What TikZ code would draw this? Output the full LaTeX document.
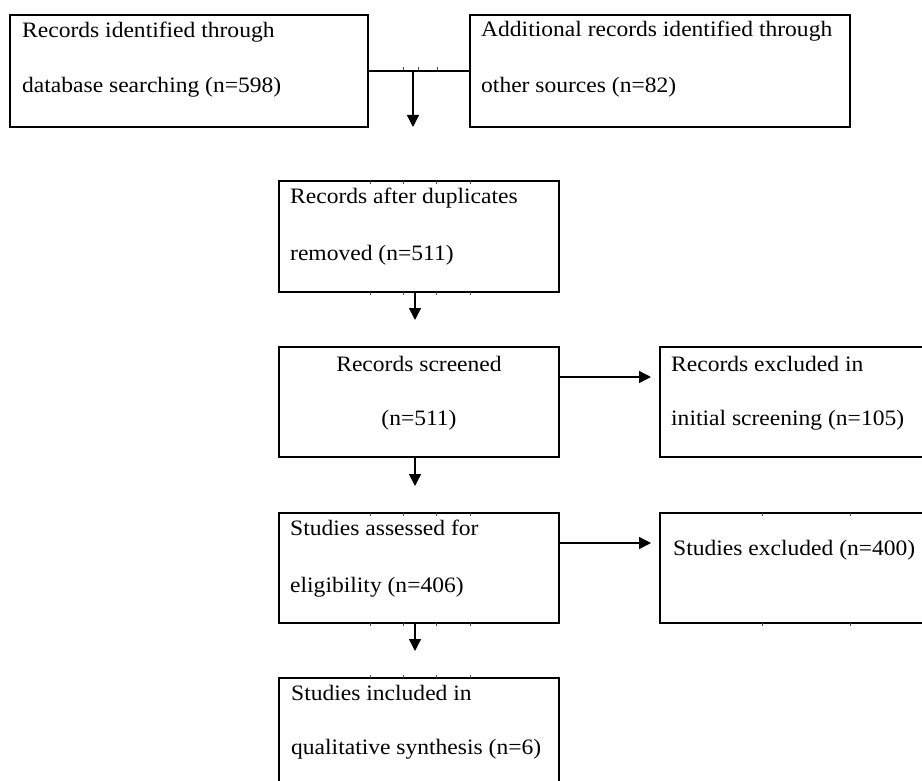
\documentclass[tikz,border=0pt]{standalone}
\usepackage{fontspec}
\setmainfont{Liberation Serif}
\usetikzlibrary{arrows.meta}
\newcommand{\strx}[1]{\scalebox{1.07}[1]{#1}}
\begin{document}
\begin{tikzpicture}[x=1pt,y=-1pt,
  box/.style={draw=black, line width=1.4pt, inner sep=0pt, outer sep=0pt},
  txt/.style={anchor=base west, inner sep=0pt, font=\fontsize{22}{22}\selectfont},
  ctxt/.style={anchor=base, inner sep=0pt, font=\fontsize{22}{22}\selectfont},
  conn/.style={draw=black, line width=1.4pt},
  arr/.style={conn, -{Triangle[length=12pt,width=12pt]}},
  tick/.style={draw=black!70, line width=0.8pt}]
\useasboundingbox[fill=white] (0,0) rectangle (922,781);
\clip (0,0) rectangle (922,781);
% boxes
\node[box, minimum width=358pt, minimum height=112pt] (b1) at (189,71) {};
\node[box, minimum width=380pt, minimum height=112pt] (b2) at (660,71) {};
\node[box, minimum width=280pt, minimum height=111pt] (b3) at (419,236.5) {};
\node[box, minimum width=280pt, minimum height=110pt] (b4) at (419,402) {};
\node[box, minimum width=290pt, minimum height=110pt] (b5) at (805,402) {};
\node[box, minimum width=280pt, minimum height=110pt] (b6) at (419,568) {};
\node[box, minimum width=290pt, minimum height=110pt] (b7) at (805,568) {};
\node[box, minimum width=280pt, minimum height=124pt] (b8) at (419,740) {};
% texts
\node[txt] (t1a) at ([shift={(12,23)}]b1.north west) {\strx{Records identified through}};
\node[txt] (t1b) at ([shift={(12,78)}]b1.north west) {\strx{database searching (n=598)}};
\node[txt] (t2a) at ([shift={(11,22)}]b2.north west) {\strx{Additional records identified through}};
\node[txt] (t2b) at ([shift={(11,78)}]b2.north west) {\strx{other sources (n=82)}};
\node[txt] (t3a) at ([shift={(11,23)}]b3.north west) {\strx{Records after duplicates}};
\node[txt] (t3b) at ([shift={(11,79)}]b3.north west) {\strx{removed (n=511)}};
\node[ctxt] (t4a) at ([shift={(0,24)}]b4.north) {\strx{Records screened}};
\node[ctxt] (t4b) at ([shift={(0,78)}]b4.north) {\strx{(n=511)}};
\node[txt] (t5a) at ([shift={(11,24)}]b5.north west) {\strx{Records excluded in}};
\node[txt] (t5b) at ([shift={(11,78)}]b5.north west) {\strx{initial screening (n=105)}};
\node[txt] (t6a) at ([shift={(11,22)}]b6.north west) {\strx{Studies assessed for}};
\node[txt] (t6b) at ([shift={(11,79)}]b6.north west) {\strx{eligibility (n=406)}};
\node[txt] (t7a) at ([shift={(13,42)}]b7.north west) {\strx{Studies excluded (n=400)}};
\node[txt] (t8a) at ([shift={(12,22)}]b8.north west) {\strx{Studies included in}};
\node[txt] (t8b) at ([shift={(12,76)}]b8.north west) {\strx{qualitative synthesis (n=6)}};
% connector coordinates
\coordinate (j1) at (413,71);
\coordinate (e1) at (413,127);
\coordinate (s3) at (415,292);
\coordinate (e3) at (415,320);
\coordinate (s4) at (415,457);
\coordinate (e4) at (415,486);
\coordinate (s6) at (415,623);
\coordinate (e6) at (415,651);
\coordinate (h4) at (559,377);
\coordinate (h4e) at (651,377);
\coordinate (h6) at (559,543);
\coordinate (h6e) at (651,543);
% connectors
\draw[conn] (b1.east) -- (b2.west);
\draw[arr] (j1) -- (e1);
\draw[arr] (s3) -- (e3);
\draw[arr] (s4) -- (e4);
\draw[arr] (s6) -- (e6);
\draw[arr] (h4) -- (h4e);
\draw[arr] (h6) -- (h6e);
% small ticks on borders
\foreach \x in {403,418,437} \draw[tick] (\x,67) -- (\x,70);
\foreach \x in {370,403,436,470} {
  \draw[tick] (\x,181) -- (\x,184);
  \draw[tick] (\x,292) -- (\x,295);
  \draw[tick] (\x,513) -- (\x,516);
  \draw[tick] (\x,623) -- (\x,626);
  \draw[tick] (\x,675) -- (\x,678);
}
\foreach \x in {762,850} {
  \draw[tick] (\x,513) -- (\x,516);
  \draw[tick] (\x,623) -- (\x,626);
}
\end{tikzpicture}
\end{document}
